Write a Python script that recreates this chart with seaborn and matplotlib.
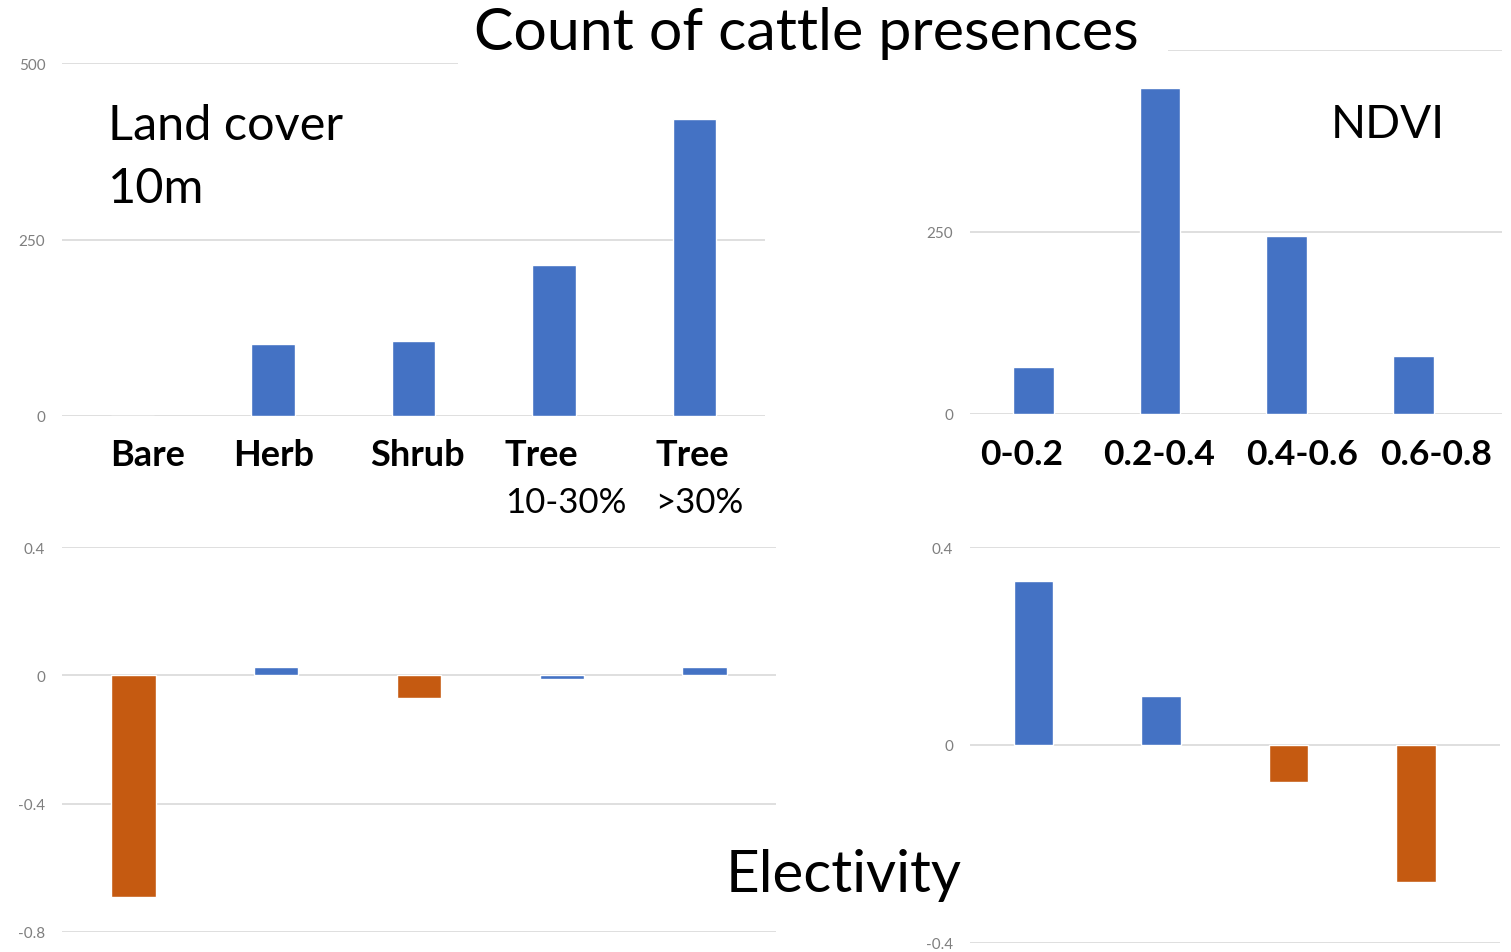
import matplotlib.pyplot as plt
import matplotlib.patches as mpatches
import matplotlib.transforms as mtrans
import pandas as pd
import seaborn as sns

# land cover (10m) classes
cover_classes = ["Bare", "Herb", "Shrub", "Tree 10-30%", "Tree >30%"]
cover_first_line = ["Bare", "Herb", "Shrub", "Tree", "Tree"]
cover_second_line = ["", "", "", "10-30%", ">30%"]
cover_counts = [0, 102, 106, 214, 421]
cover_electivity = [-0.69, 0.025, -0.072, -0.012, 0.025]
cover_elec_group = ["neg", "pos", "neg", "pos", "pos"]

# NDVI classes
ndvi_classes = ["0-0.2", "0.2-0.4", "0.4-0.6", "0.6-0.8"]
ndvi_counts = [65, 448, 245, 80]
ndvi_electivity = [0.331, 0.099, -0.075, -0.277]
ndvi_elec_group = ["pos", "pos", "neg", "neg"]

count_ticks = [0, 250, 500]
cover_elec_ticks = [-0.8, -0.4, 0, 0.4]
ndvi_elec_ticks = [-0.4, 0, 0.4]

BLUE = "#4472C4"
ORANGE = "#C55A11"
GRID = "#d9d9d9"
TICK = "#7f7f7f"

sns.set_theme(style="white")
plt.rcParams["font.family"] = ["Lato", "DejaVu Sans"]
plt.rcParams["axes.unicode_minus"] = False

W, H = 1511, 953
fig = plt.figure(figsize=(W / 100, H / 100), dpi=100)


def px_axes(x0, x1, ytop, ybot):
    return fig.add_axes([x0 / W, 1 - ybot / H, (x1 - x0) / W, (ybot - ytop) / H])


def style(ax, ticks, labels, ylim, xlim):
    ax.set_ylim(*ylim)
    ax.set_xlim(*xlim)
    ax.set_yticks(ticks)
    ax.set_yticklabels(labels)
    ax.set_xticks([])
    ax.set_xlabel("")
    ax.set_ylabel("")
    ax.grid(axis="y", color=GRID, linewidth=1.2)
    ax.set_axisbelow(True)
    for s in ax.spines.values():
        s.set_visible(False)
    ax.tick_params(axis="y", length=0, pad=12, labelsize=11, labelcolor=TICK)
    ax.patch.set_alpha(0)


# top left: land cover counts
ax1 = px_axes(62, 765, 64, 417)
sns.barplot(x=cover_classes, y=cover_counts, color=BLUE, width=0.31,
            saturation=1, ax=ax1)
style(ax1, count_ticks, [str(t) for t in count_ticks], (0, 500), (-0.5, 4.5))
tr1 = mtrans.blended_transform_factory(ax1.transData, ax1.transAxes)
offsets1 = [-0.16, -0.28, -0.31, -0.35, -0.28]
for i, (a, b) in enumerate(zip(cover_first_line, cover_second_line)):
    ax1.text(i + offsets1[i], -0.11, a, transform=tr1, ha="left", va="center",
             fontsize=26, fontweight="bold", color="black")
    if b:
        ax1.text(i + offsets1[i], -0.245, b, transform=tr1, ha="left",
                 va="center", fontsize=25, color="black")

# top right: NDVI counts (the 500 label sits under the title band)
ax2 = px_axes(970, 1502, 51, 415)
sns.barplot(x=ndvi_classes, y=ndvi_counts, color=BLUE, width=0.32,
            saturation=1, ax=ax2)
style(ax2, count_ticks, ["0", "250", ""], (0, 500), (-0.5, 3.7))
tr2 = mtrans.blended_transform_factory(ax2.transData, ax2.transAxes)
offsets2 = [-0.09, -0.01, 0.12, 0.18]
for i, name in enumerate(ndvi_classes):
    ax2.text(i + offsets2[i], -0.11, name, transform=tr2, ha="center",
             va="center", fontsize=25.5, fontweight="bold", color="black")

# bottom left: land cover electivity
ax3 = px_axes(62, 776, 548, 933)
df3 = pd.DataFrame({"cls": cover_classes, "val": cover_electivity,
                    "grp": cover_elec_group})
sns.barplot(data=df3, x="cls", y="val", hue="grp",
            palette={"pos": BLUE, "neg": ORANGE}, width=0.31, dodge=False,
            saturation=1, legend=False, ax=ax3)
style(ax3, cover_elec_ticks, ["-0.8", "-0.4", "0", "0.4"], (-0.8, 0.4),
      (-0.5, 4.5))

# bottom right: NDVI electivity
ax4 = px_axes(970, 1500, 548, 944)
df4 = pd.DataFrame({"cls": ndvi_classes, "val": ndvi_electivity,
                    "grp": ndvi_elec_group})
sns.barplot(data=df4, x="cls", y="val", hue="grp",
            palette={"pos": BLUE, "neg": ORANGE}, width=0.31, dodge=False,
            saturation=1, legend=False, ax=ax4)
style(ax4, ndvi_elec_ticks, ["-0.4", "0", "0.4"], (-0.4, 0.4), (-0.5, 3.66))

# title over a white band
fig.patches.append(mpatches.Rectangle((458 / W, 1 - 68 / H), 710 / W, 68 / H,
                                      transform=fig.transFigure,
                                      facecolor="white", edgecolor="none",
                                      zorder=5))
fig.text(806 / W, 1 - 33 / H, "Count of cattle presences", ha="center",
         va="center", fontsize=42.5, color="black", zorder=6)
fig.text(108 / W, 1 - 126 / H, "Land cover", ha="left", va="center",
         fontsize=35, color="black", zorder=6)
fig.text(108 / W, 1 - 189 / H, "10m", ha="left", va="center",
         fontsize=35, color="black", zorder=6)
fig.text(1388 / W, 1 - 125 / H, "NDVI", ha="center", va="center",
         fontsize=33, color="black", zorder=6)
fig.text(844 / W, 1 - 876 / H, "Electivity", ha="center", va="center",
         fontsize=42, color="black", zorder=6)

fig.savefig("out.png", dpi=100, facecolor="white")
